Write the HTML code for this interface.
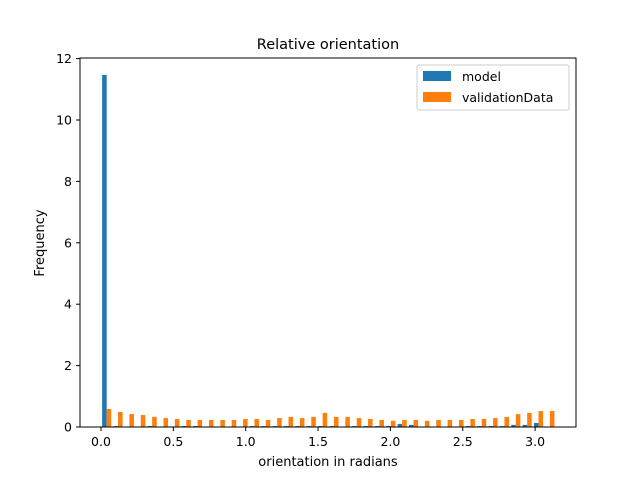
<!DOCTYPE html>
<html><head><meta charset="utf-8"><style>
body{margin:0;background:#fff;font-family:"Liberation Sans","DejaVu Sans",sans-serif}
</style></head><body>
<svg id="chart" width="640" height="480" xmlns="http://www.w3.org/2000/svg" font-family="DejaVu Sans, Liberation Sans, sans-serif">
<rect width="640" height="480" fill="#fff"/>
<text x="328" y="49" text-anchor="middle" font-size="14.5">Relative orientation</text>
<g id="bars"></g>
<rect x="80" y="58" width="496" height="369" fill="none" stroke="#000" stroke-width="1"/>
<g id="axes" font-size="12.5"></g>
<text x="328" y="466" text-anchor="middle" font-size="13">orientation in radians</text>
<text x="44" y="243" text-anchor="middle" font-size="13" transform="rotate(-90 44 243)">Frequency</text>
<g>
<rect x="417" y="65" width="152" height="45" fill="#fff" stroke="#ccc" rx="2"/>
<rect x="423" y="71" width="28" height="10" fill="#1f77b4"/>
<text x="462" y="81" font-size="12.5">model</text>
<rect x="423" y="92" width="28" height="10" fill="#ff7f0e"/>
<text x="462" y="102" font-size="12.5">validationData</text>
</g>
</svg>
<script>
const binCount = 40;
const modelValues = [11.47,0.03,0,0,0.03,0,0,0.03,0.03,0,0,0,0,0.03,0.03,0.03,0.03,0.03,0.03,0.03,0.03,0,0.03,0.03,0.03,0.03,0.1,0.07,0,0,0,0,0.03,0.03,0.03,0.03,0.07,0.07,0.13,0];
const validationValues = [0.59,0.49,0.42,0.39,0.33,0.29,0.26,0.23,0.23,0.23,0.23,0.23,0.26,0.26,0.23,0.29,0.33,0.29,0.33,0.46,0.33,0.33,0.29,0.26,0.23,0.2,0.23,0.23,0.2,0.23,0.23,0.23,0.26,0.26,0.29,0.33,0.42,0.46,0.52,0.52];
const xTicks = [0.0,0.5,1.0,1.5,2.0,2.5,3.0];
const yTicks = [0,2,4,6,8,10,12];
const NS="http://www.w3.org/2000/svg";
const xs=v=>101+v*144.7, ys=v=>427-v*30.7;
const bw=Math.PI/binCount;
const bars=document.getElementById('bars');
function rect(x,y,w,h,fill){const r=document.createElementNS(NS,'rect');r.setAttribute('x',x);r.setAttribute('y',y);r.setAttribute('width',w);r.setAttribute('height',h);r.setAttribute('fill',fill);bars.appendChild(r);return r;}
for(let i=0;i<binCount;i++){
  const x0=xs(i*bw), wpx=xs(bw)-xs(0), w=wpx*0.4;
  let v=modelValues[i];
  if(v>0){const r=rect(x0+wpx*0.1,ys(v),w,ys(0)-ys(v),'#1f77b4');
  
  }
  v=validationValues[i];
  if(v>0){const r=rect(x0+wpx*0.5,ys(v),w,ys(0)-ys(v),'#ff7f0e');
  
  }
}
const ax=document.getElementById('axes');
function line(x1,y1,x2,y2){const l=document.createElementNS(NS,'line');l.setAttribute('x1',x1);l.setAttribute('y1',y1);l.setAttribute('x2',x2);l.setAttribute('y2',y2);l.setAttribute('stroke','#000');ax.appendChild(l);return l;}
function text(x,y,s,a){const t=document.createElementNS(NS,'text');t.setAttribute('x',x);t.setAttribute('y',y);t.setAttribute('text-anchor',a);t.textContent=s;ax.appendChild(t);return t;}
xTicks.forEach(v=>{const x=xs(v);const l=line(x,427,x,431);


const t=text(x,446,v.toFixed(1),'middle');

});
yTicks.forEach(v=>{const y=ys(v);const l=line(76,y,80,y);


const t=text(72,y+4.5,String(v),'end');

});
</script>
</body></html>
